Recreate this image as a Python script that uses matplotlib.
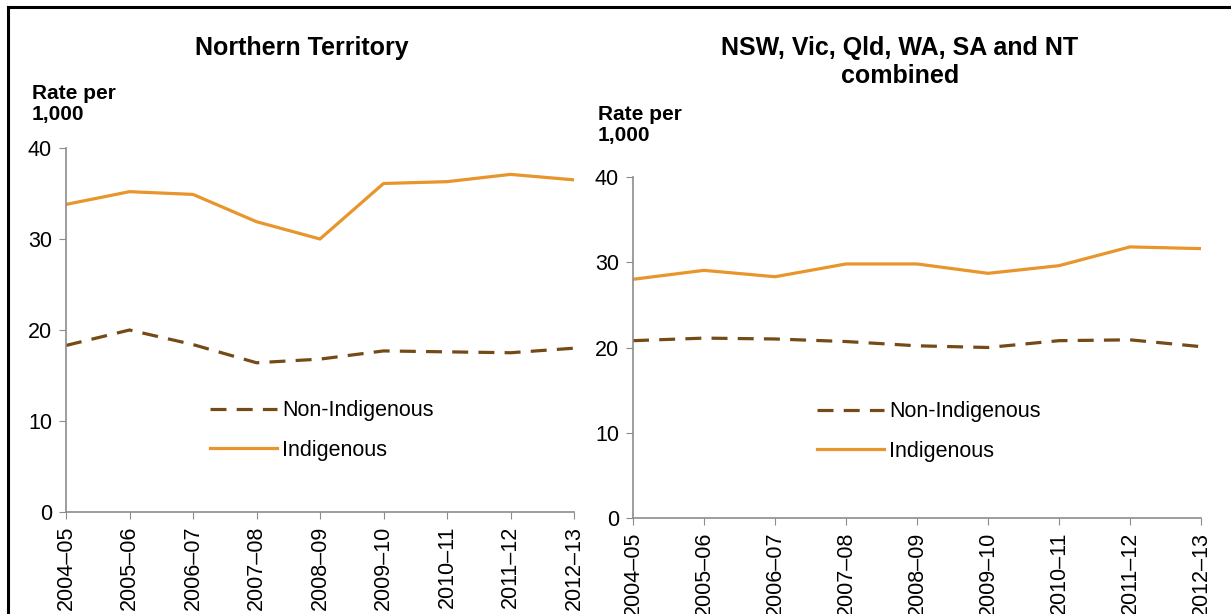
import matplotlib.pyplot as plt
from matplotlib.lines import Line2D

plt.rcParams['font.family'] = ['Liberation Sans', 'DejaVu Sans']

# Data
years = ['2004\u201305', '2005\u201306', '2006\u201307', '2007\u201308', '2008\u201309',
         '2009\u201310', '2010\u201311', '2011\u201312', '2012\u201313']
nt_indigenous = [33.8, 35.2, 34.9, 31.9, 30.0, 36.1, 36.3, 37.1, 36.5]
nt_non_indigenous = [18.3, 20.0, 18.4, 16.4, 16.8, 17.7, 17.6, 17.5, 18.0]
all_indigenous = [28.0, 29.05, 28.3, 29.8, 29.8, 28.7, 29.6, 31.8, 31.6]
all_non_indigenous = [20.8, 21.1, 21.0, 20.7, 20.2, 20.0, 20.8, 20.9, 20.1]

orange = '#E8952B'
brown = '#744A16'
grey = '#8C8C8C'

W, H = 1231, 614
fig = plt.figure(figsize=(W / 100, H / 100), dpi=100)

# outer frame (top and left edges visible in the crop)
fig.add_artist(Line2D([8 / W, 8 / W], [0, 1 - 7 / H], color='black', lw=2.2))
fig.add_artist(Line2D([8 / W, 1], [1 - 7 / H, 1 - 7 / H], color='black', lw=2.2))


def draw_panel(rect, indig, non_indig, title, title_xy, ylab_xy, leg_xy):
    ax = fig.add_axes(rect)
    x = list(range(len(years)))
    ln, = ax.plot(x, non_indig, color=brown, lw=2.3, label='Non-Indigenous')
    ln.set_dashes((5, 3.2))
    ax.plot(x, indig, color=orange, lw=2.3, label='Indigenous')
    ax.set_xlim(0, len(years) - 1)
    ax.set_ylim(0, 40)
    ax.set_yticks([0, 10, 20, 30, 40])
    ax.set_xticks(x)
    ax.set_xticklabels(years, rotation=90, fontsize=15.5)
    ax.tick_params(axis='y', labelsize=15.5, color=grey, length=5, pad=5)
    ax.tick_params(axis='x', color=grey, length=5, pad=5)
    for s in ['top', 'right']:
        ax.spines[s].set_visible(False)
    for s in ['left', 'bottom']:
        ax.spines[s].set_color(grey)
        ax.spines[s].set_linewidth(1.2)
    ax.patch.set_alpha(0)
    fig.text(title_xy[0] / W, 1 - title_xy[1] / H, title, ha='center', va='center',
             fontsize=18, fontweight='bold', linespacing=1.2)
    fig.text(ylab_xy[0] / W, 1 - ylab_xy[1] / H, 'Rate per\n1,000', ha='left', va='center',
             fontsize=15, fontweight='bold', linespacing=1.1)
    ax.legend(loc='upper left', bbox_to_anchor=(leg_xy[0] / W, 1 - leg_xy[1] / H),
              bbox_transform=fig.transFigure, frameon=False, fontsize=15.5,
              handlelength=3.1, labelspacing=0.85, handletextpad=0.25)
    return ax


draw_panel([66 / W, 1 - 512 / H, 508 / W, 364 / H], nt_indigenous, nt_non_indigenous,
           'Northern Territory', (302, 48), (32, 104), (191, 381))
draw_panel([633 / W, 1 - 518 / H, 568 / W, 341 / H], all_indigenous, all_non_indigenous,
           'NSW, Vic, Qld, WA, SA and NT\ncombined', (900, 62), (598, 125), (798, 382))

fig.savefig('out.png', dpi=100)
